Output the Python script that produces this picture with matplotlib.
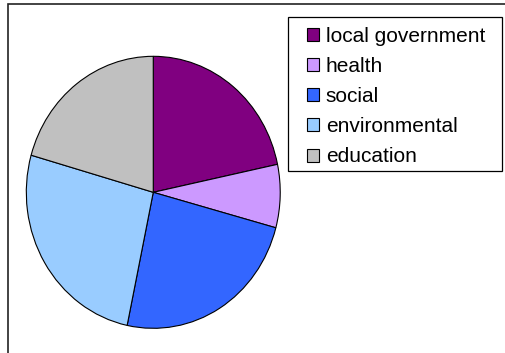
import matplotlib.pyplot as plt
from matplotlib.patches import Rectangle

plt.rcParams['font.family'] = ['Liberation Sans', 'DejaVu Sans']

labels = ['local government', 'health', 'social', 'environmental', 'education']
shares = [21.7, 7.5, 24.1, 26.1, 20.6]
colors = ['#800080', '#CC99FF', '#3366FF', '#99CCFF', '#C0C0C0']

fig = plt.figure(figsize=(5.06, 3.53), dpi=100)

# outer chart frame, cut off at the right and bottom
fig.patches.append(Rectangle((8 / 506, -0.1), 1.2, 1 - 4 / 353 + 0.1,
                             transform=fig.transFigure, fill=False,
                             edgecolor='#222222', linewidth=1.2))

ax = fig.add_axes([0.0269, 0.0314, 0.552, 0.8476])
wedges, _ = ax.pie(shares, colors=colors, startangle=90, counterclock=False,
                   wedgeprops=dict(edgecolor='black', linewidth=0.8))
ax.set_aspect('auto')
ax.set_xlim(-1.1, 1.1)
ax.set_ylim(-1.1, 1.1)

# legend box drawn separately so the padding can match
fig.patches.append(Rectangle((288.3 / 506, 1 - 170.7 / 353),
                             (501.7 - 288.3) / 506, (170.7 - 17.3) / 353,
                             transform=fig.transFigure, facecolor='white',
                             edgecolor='black', linewidth=0.9, zorder=2))

leg = fig.legend(wedges, labels, loc='upper left',
                 bbox_to_anchor=(307 / 506, 1 - 26.5 / 353),
                 fontsize=15, frameon=False,
                 handlelength=0.57, handleheight=0.57, handletextpad=0.33,
                 labelspacing=0.54, borderpad=0, borderaxespad=0)
leg.set_zorder(3)
for h in leg.legend_handles:
    h.set_edgecolor('black')
    h.set_linewidth(0.8)

fig.savefig('out.png', dpi=100)
